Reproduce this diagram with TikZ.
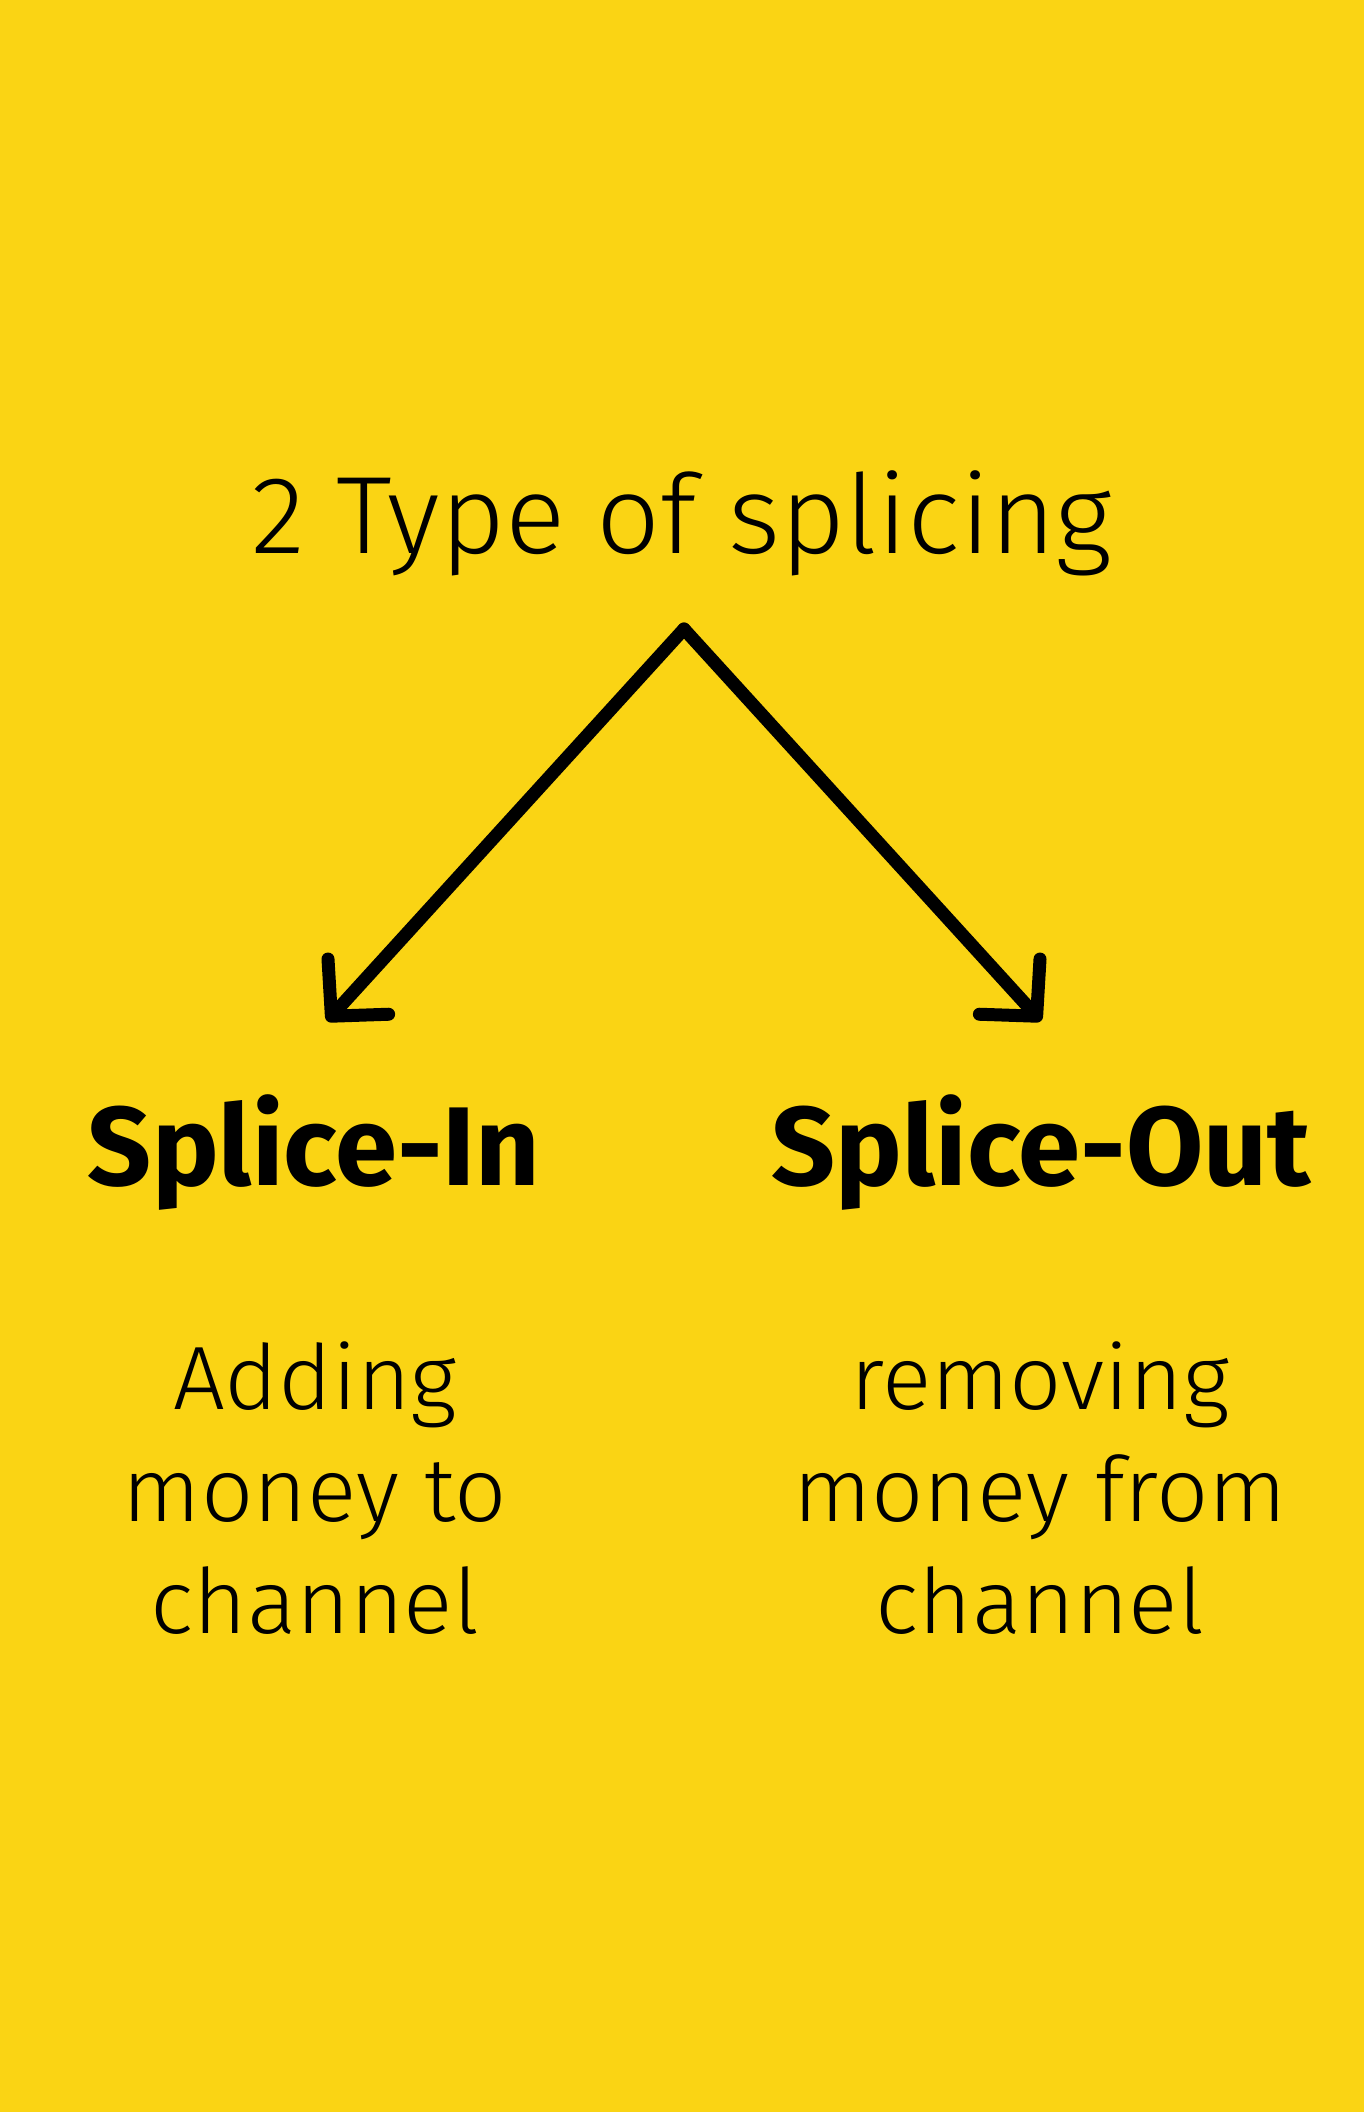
\documentclass[tikz,border=0pt]{standalone}
\usepackage{fontspec}
\setmainfont{Fira Sans Light}[FakeStretch=1.02]
\newfontfamily\headfont{Fira Sans}[FakeStretch=1.0]
\usetikzlibrary{arrows.meta}
\definecolor{bg}{HTML}{FAD414}
\begin{document}
\begin{tikzpicture}[x=0.5pt,y=-0.5pt,
  title/.style={anchor=base,inner sep=0pt,font=\fontsize{55}{66}\selectfont},
  kind/.style={anchor=base,inner sep=0pt,font=\headfont\bfseries\fontsize{56}{66}\selectfont},
  note/.style={anchor=base,inner sep=0pt,align=center,font=\fontsize{45}{56}\selectfont},
  branch/.style={line width=6.5pt,line cap=round,line join=round,
    -{Straight Barb[length=20pt,width=41pt,line width=6.5pt,round]}}]
\fill[bg] (0,0) rectangle (1364,2112);
\useasboundingbox (0,0) rectangle (1364,2112);

\node[title] (head) at (682,553) {2 Type of splicing};

\coordinate (apex) at (684,629);
\coordinate (inTip) at (327,1021);
\coordinate (outTip) at (1041,1021);

\node[kind] (spin) at (314,1185) {Splice-In};
\node[kind] (spout) at (1041,1185) {Splice-Out};

% base anchor of a multi-line node sits on its last line
\node[note] (addtxt) at (315,1633) {Adding\\money to\\channel};
\node[note] (remtxt) at (1040,1633) {removing\\money from\\channel};

\draw[branch] (apex) -- (inTip);
\draw[branch] (apex) -- (outTip);
\end{tikzpicture}
\end{document}
